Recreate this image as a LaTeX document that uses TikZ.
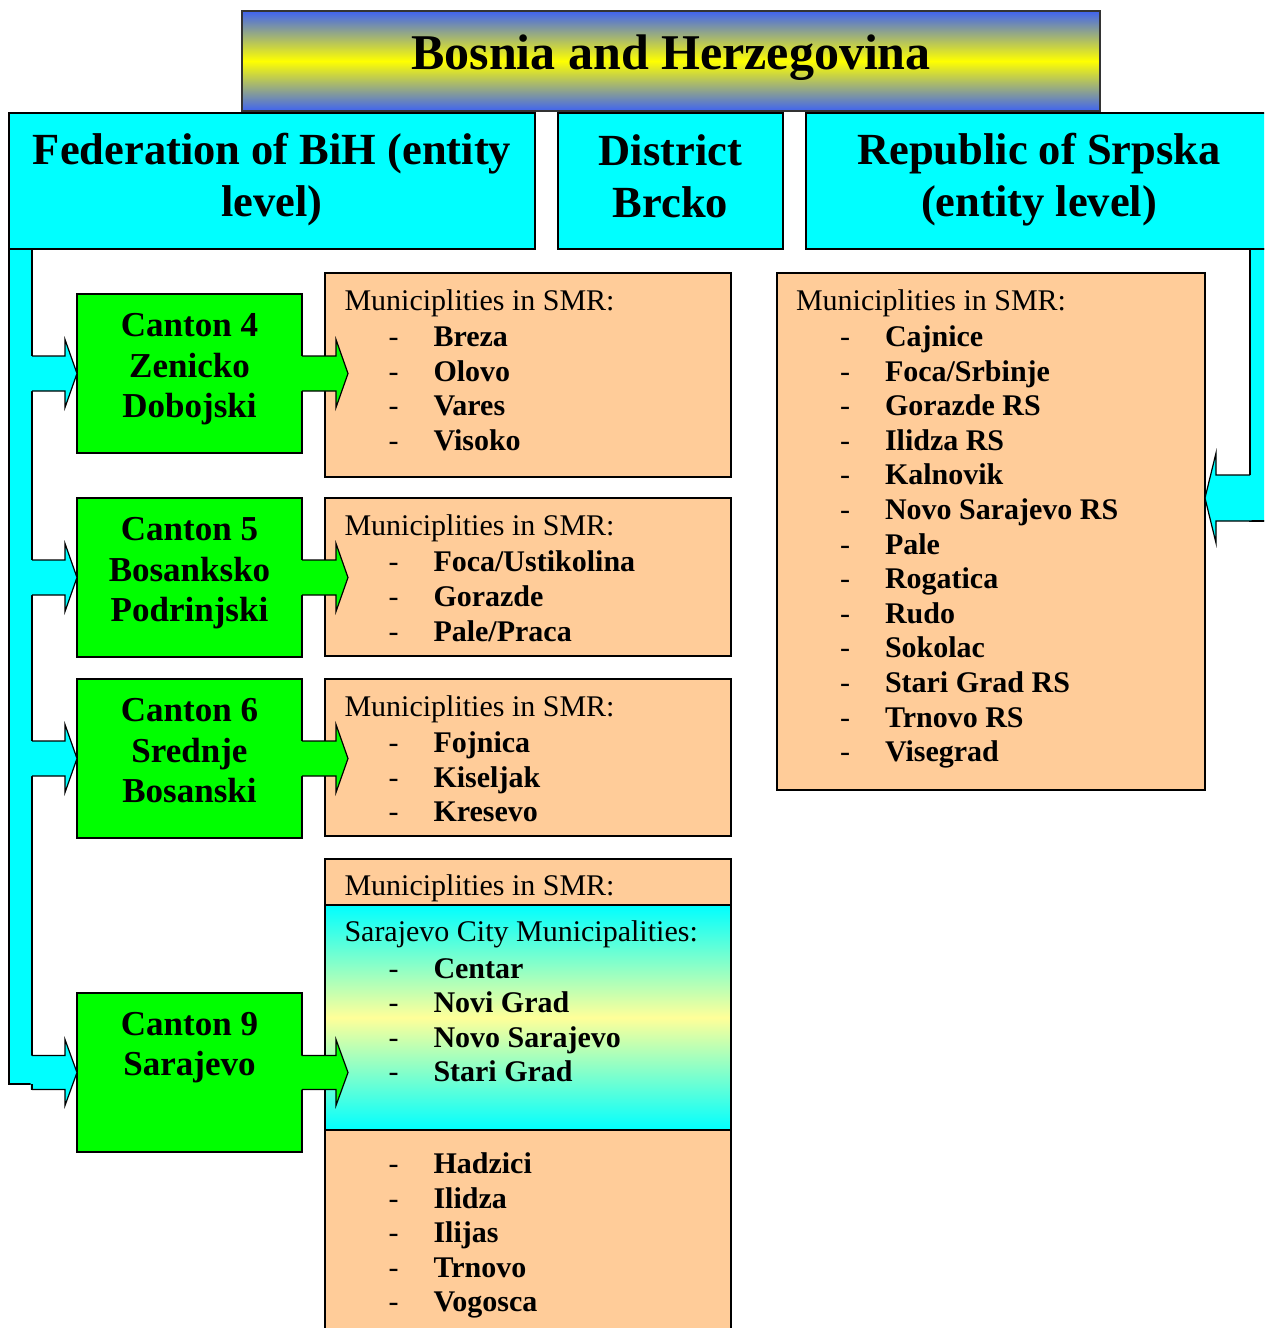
\documentclass[tikz,border=0pt]{standalone}
\usepackage{fontspec}
\setmainfont{Liberation Serif}
\usetikzlibrary{calc}
\definecolor{cyanbox}{HTML}{00FFFF}
\definecolor{greenbox}{HTML}{00FF00}
\definecolor{peach}{HTML}{FFCC99}
\definecolor{titleblue}{HTML}{3F63F0}
\definecolor{titleyellow}{HTML}{FFFF00}
\definecolor{paleyellow}{HTML}{FFFF99}
\newcommand\mitem[1]{\\\hspace*{44pt}\makebox[45pt][l]{-}\textbf{#1}}
\newcommand\mhead[1]{#1\vspace{1.8pt}}
\newcommand\fTitle{\fontsize{50}{60}\selectfont\bfseries}
\newcommand\fHead{\fontsize{44.5}{52.4}\selectfont\bfseries}
\newcommand\fCanton{\fontsize{35}{40.3}\selectfont\bfseries}
\newcommand\fList{\fontsize{30}{34.6}\selectfont}
% start, tip, colour, shaft half height, head half height, head length
\newcommand\blockarrow[6]{%
  \fill[#3] ($(#1)+(-1.5,-#4)$) -- ($(#2)+(-#6,-#4)$) -- ($(#2)+(-#6,-#5)$) -- (#2)
     -- ($(#2)+(-#6,#5)$) -- ($(#2)+(-#6,#4)$) -- ($(#1)+(-1.5,#4)$) -- cycle;
  \draw[ln] ($(#1)+(0,-#4)$) -- ($(#2)+(-#6,-#4)$) -- ($(#2)+(-#6,-#5)$) -- (#2)
     -- ($(#2)+(-#6,#5)$) -- ($(#2)+(-#6,#4)$) -- ($(#1)+(0,#4)$);}
\begin{document}
\begin{tikzpicture}[x=1pt,y=-1pt,
  ln/.style={draw=black,line width=1.2pt,line join=miter},
  boxn/.style={ln,inner sep=0pt,outer sep=0pt,anchor=north west},
  headbox/.style={boxn,fill=cyanbox,minimum height=136pt},
  cantonbox/.style={boxn,fill=greenbox,minimum width=225pt,minimum height=159pt},
  munibox/.style={boxn,fill=peach,minimum width=406pt},
  ctxt/.style={inner sep=0pt,outer sep=0pt,anchor=base},
  ltxt/.style={inner sep=0pt,outer sep=0pt,anchor=base west,font=\fList}]
\useasboundingbox (0,0) rectangle (1264,1328);
\clip (0,0) rectangle (1264,1328);

% title
\node[boxn,draw=black!80,top color=titleblue,bottom color=titleblue,middle color=titleyellow,
  minimum width=858pt,minimum height=100pt] (title) at (242,11) {};
\node[ctxt,font=\fTitle] (titletx) at (671,69) {Bosnia and Herzegovina};

% entity level
\node[headbox,minimum width=526pt] (fed) at (9,113) {};
\node[headbox,minimum width=225pt] (dis) at (558,113) {};
\node[headbox,minimum width=466pt] (rep) at (806,113) {};
\node[ctxt,font=\fHead] (fedtx) at (272,164.3) {\parbox[t]{520pt}{\centering Federation of BiH (entity\\level)}};
\node[ctxt,font=\fHead] (distx) at (670.5,165) {\parbox[t]{220pt}{\centering District\\Brcko}};
\node[ctxt,font=\fHead] (reptx) at (1039,164.3) {\parbox[t]{460pt}{\centering Republic of Srpska\\(entity level)}};

% bars
\node[boxn,fill=cyanbox,minimum width=23pt,minimum height=835pt] (lbar) at (9,249) {};
\node[boxn,fill=cyanbox,minimum width=22pt,minimum height=272pt] (rbar) at (1250,249) {};

% municipality boxes
\node[munibox,minimum height=204pt] (m4) at (325,273) {};
\node[munibox,minimum height=158pt] (m5) at (325,498) {};
\node[munibox,minimum height=157pt] (m6) at (325,679) {};
\node[munibox,minimum height=480pt] (m9) at (325,859) {};
\node[boxn,top color=cyanbox,bottom color=cyanbox,middle color=paleyellow,
  minimum width=406pt,minimum height=225pt] (sc) at (325,905) {};
\node[boxn,fill=peach,minimum width=428pt,minimum height=517pt] (rbox) at (777,273) {};

\node[ltxt] (m4tx) at (344.5,310) {\parbox[t]{380pt}{\raggedright\mhead{Municiplities in SMR:}%
  \mitem{Breza}\mitem{Olovo}\mitem{Vares}\mitem{Visoko}}};
\node[ltxt] (m5tx) at (344.5,535.5) {\parbox[t]{380pt}{\raggedright\mhead{Municiplities in SMR:}%
  \mitem{Foca/Ustikolina}\mitem{Gorazde}\mitem{Pale/Praca}}};
\node[ltxt] (m6tx) at (344.5,716) {\parbox[t]{380pt}{\raggedright\mhead{Municiplities in SMR:}%
  \mitem{Fojnica}\mitem{Kiseljak}\mitem{Kresevo}}};
\node[ltxt] (m9tx) at (344.5,895.7) {Municiplities in SMR:};
\node[ltxt] (sctx) at (344.5,941.7) {\parbox[t]{380pt}{\raggedright\mhead{Sarajevo City Municipalities:}%
  \mitem{Centar}\mitem{Novi Grad}\mitem{Novo Sarajevo}\mitem{Stari Grad}}};
\node[ltxt] (m9btx) at (344.5,1173.5) {\parbox[t]{380pt}{\raggedright
  \hspace*{44pt}\makebox[45pt][l]{-}\textbf{Hadzici}\mitem{Ilidza}\mitem{Ilijas}\mitem{Trnovo}\mitem{Vogosca}}};
\node[ltxt] (rtx) at (796,310) {\parbox[t]{400pt}{\raggedright\mhead{Municiplities in SMR:}%
  \mitem{Cajnice}\mitem{Foca/Srbinje}\mitem{Gorazde RS}\mitem{Ilidza RS}\mitem{Kalnovik}%
  \mitem{Novo Sarajevo RS}\mitem{Pale}\mitem{Rogatica}\mitem{Rudo}\mitem{Sokolac}%
  \mitem{Stari Grad RS}\mitem{Trnovo RS}\mitem{Visegrad}}};

% cantons
\node[cantonbox] (c4) at (77,294) {};
\node[cantonbox] (c5) at (77,498) {};
\node[cantonbox] (c6) at (77,679) {};
\node[cantonbox] (c9) at (77,993) {};
\node[ctxt,font=\fCanton] (c4tx) at (189.5,336.7) {\parbox[t]{220pt}{\centering Canton 4\\Zenicko\\Dobojski}};
\node[ctxt,font=\fCanton] (c5tx) at (189.5,540.7) {\parbox[t]{220pt}{\centering Canton 5\\Bosanksko\\Podrinjski}};
\node[ctxt,font=\fCanton] (c6tx) at (189.5,721.7) {\parbox[t]{220pt}{\centering Canton 6\\Srednje\\Bosanski}};
\node[ctxt,font=\fCanton] (c9tx) at (189.5,1035.2) {\parbox[t]{220pt}{\centering Canton 9\\Sarajevo}};

% arrows from the federation bar to the cantons
\foreach \c in {c4,c5,c6,c9}{
  \coordinate (s\c) at (lbar.east |- \c.west);
  \coordinate (g\c) at ($(\c.east)+(46,0)$);
}
\blockarrow{sc4}{c4.west}{cyanbox}{17.5}{34}{12}
\blockarrow{sc5}{c5.west}{cyanbox}{17.5}{34}{12}
\blockarrow{sc6}{c6.west}{cyanbox}{17.5}{34}{12}
\blockarrow{sc9}{c9.west}{cyanbox}{17}{33}{12}
\draw[ln] ($(sc9)+(0,17)$) -- (lbar.south east);

% arrows from the cantons to the municipality lists
\blockarrow{c4.east}{gc4}{greenbox}{17.5}{34}{12}
\blockarrow{c5.east}{gc5}{greenbox}{17.5}{34}{12}
\blockarrow{c6.east}{gc6}{greenbox}{17.5}{34}{12}
\blockarrow{c9.east}{gc9}{greenbox}{17}{33}{12}

% arrow from the Srpska bar to its list
\coordinate (rt) at ($(rbox.east |- rbar.south)+(0,-23)$);
\coordinate (rs) at (rbar.west |- rt);
\fill[cyanbox] ($(rs)+(1.5,-23)$) -- ($(rt)+(11,-23)$) -- ($(rt)+(11,-45)$) -- (rt)
  -- ($(rt)+(11,45)$) -- ($(rt)+(11,23)$) -- ($(rs)+(1.5,23)$) -- cycle;
\draw[ln] ($(rs)+(0,-23)$) -- ($(rt)+(11,-23)$) -- ($(rt)+(11,-45)$) -- (rt)
  -- ($(rt)+(11,45)$) -- ($(rt)+(11,23)$) -- ($(rbar.south east)+(2,0)$);
\end{tikzpicture}
\end{document}
